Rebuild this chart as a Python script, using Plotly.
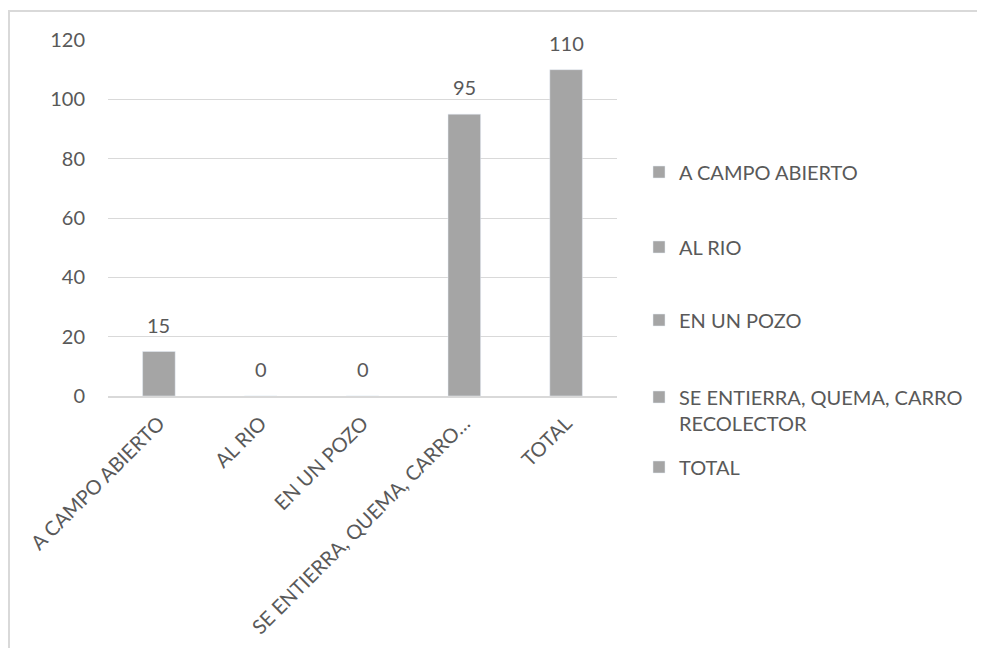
import plotly.graph_objects as go

categories = ["A CAMPO ABIERTO", "AL RIO", "EN UN POZO",
              "SE ENTIERRA, QUEMA, CARRO RECOLECTOR", "TOTAL"]
values = [15, 0, 0, 95, 110]
tick_labels = ["A CAMPO ABIERTO", "AL RIO", "EN UN POZO",
               "SE ENTIERRA, QUEMA, CARRO…", "TOTAL"]
legend_labels = ["A CAMPO ABIERTO", "AL RIO", "EN UN POZO",
                 "SE ENTIERRA, QUEMA, CARRO<br>RECOLECTOR", "TOTAL"]
y_ticks = [0, 20, 40, 60, 80, 100, 120]

FONT = "Lato"
TXT = "#595959"
BAR = "#A5A5A5"
GRID = "#D9D9D9"
FS = 20

# page offset caused by the default body margin
OFF = 8
W, H = 985 - OFF, 648 - OFF
# plot area in page pixels, converted to figure pixels
L, R, T, B = 108 - OFF, 617 - OFF, 40 - OFF, 396 - OFF


def px_x(p):
    return (p - OFF - L) / (R - L)


def px_y(p):
    return (B - (p - OFF)) / (B - T)


fig = go.Figure()
legend_y_px = [172, 247, 320, 410, 467]
legend_names = ["legend", "legend2", "legend3", "legend4", "legend5"]
for i, (c, v) in enumerate(zip(categories, values)):
    fig.add_trace(go.Bar(
        x=[c], y=[v], name=legend_labels[i], marker_color=BAR,
        width=0.32, legend=legend_names[i], showlegend=True,
        hoverinfo="x+y",
    ))

layout_legends = {}
for i, ln in enumerate(legend_names):
    layout_legends[ln] = dict(
        x=px_x(639), xanchor="left", y=px_y(legend_y_px[i]), yanchor="middle",
        font=dict(family=FONT, size=FS, color=TXT), bgcolor="rgba(0,0,0,0)",
        valign="top", itemclick=False, itemdoubleclick=False,
    )

annotations = []
for c, v in zip(categories, values):
    annotations.append(dict(
        x=c, y=v, xref="x", yref="y", text=str(v), showarrow=False,
        yanchor="middle", yshift=27,
        font=dict(family=FONT, size=FS, color=TXT),
    ))

fig.update_layout(
    width=W, height=H,
    margin=dict(l=L, r=W - R, t=T, b=H - B, autoexpand=False),
    paper_bgcolor="white", plot_bgcolor="white",
    barmode="overlay",
    font=dict(family=FONT, size=FS, color=TXT),
    xaxis=dict(
        categoryorder="array", categoryarray=categories,
        tickvals=categories, ticktext=tick_labels, tickangle=-45,
        showgrid=False, showline=True, linecolor=GRID, linewidth=1.5,
        ticks="", ticklabelstandoff=6,
        tickfont=dict(family=FONT, size=FS, color=TXT),
    ),
    yaxis=dict(
        range=[0, 120], tickvals=y_ticks, showgrid=True, gridcolor=GRID,
        gridwidth=1.2, zeroline=False, showline=False, ticks="",
        ticklabelstandoff=22,
        tickfont=dict(family=FONT, size=FS, color=TXT),
    ),
    annotations=annotations,
    shapes=[dict(
        type="rect", xref="paper", yref="paper",
        x0=px_x(9), x1=px_x(1000), y0=px_y(700), y1=px_y(11),
        line=dict(color=GRID, width=2), fillcolor="rgba(0,0,0,0)",
        layer="below",
    )],
    **layout_legends,
)

fig.write_html("out.html")
